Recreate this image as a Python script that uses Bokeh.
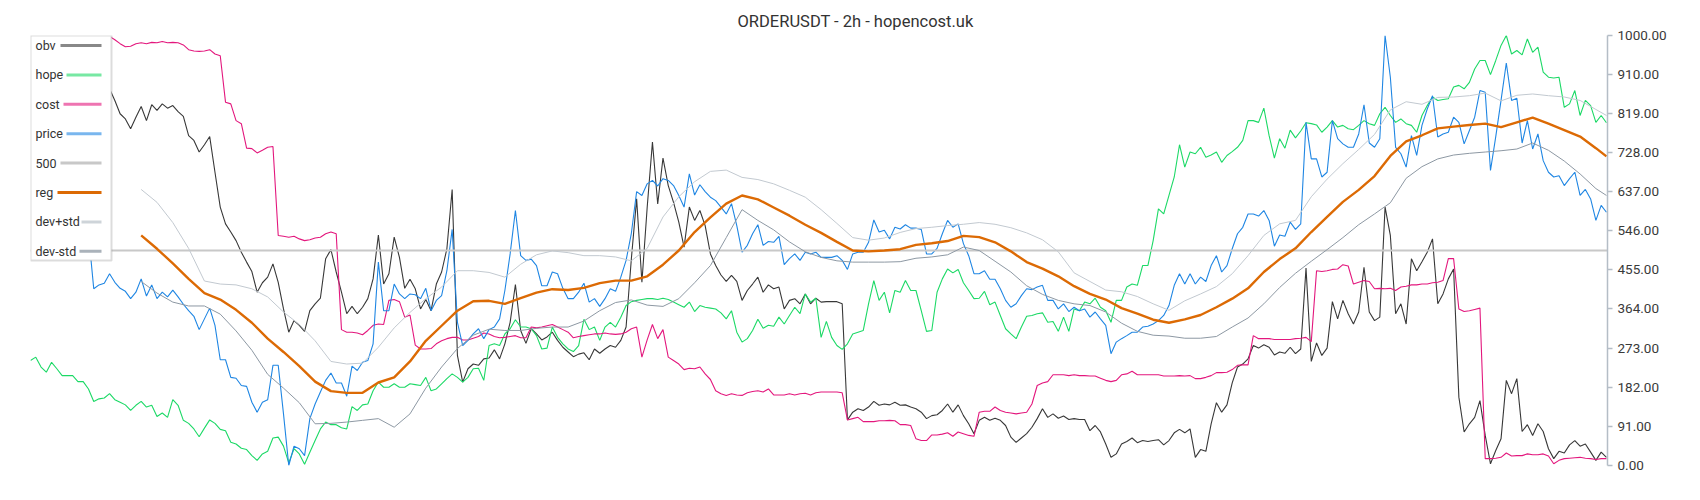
from bokeh.plotting import figure
from bokeh.models import Range1d, FixedTicker, NumeralTickFormatter, BoxAnnotation, Label
from bokeh.embed import file_html
from bokeh.resources import INLINE

# ---------------- data (normalised 0..1000, one value per 2h bar) ----------------
n_bars = 300

hope = [244, 252, 229, 217, 240, 225, 209, 209, 209, 195,
        195, 178, 149, 155, 157, 167, 153, 147, 141, 128,
        140, 149, 136, 140, 114, 122, 112, 153, 140, 105,
        98, 85, 67, 87, 106, 98, 84, 81, 54, 50,
        40, 37, 23, 12, 27, 33, 64, 66, 45, 6,
        39, 27, 3, 31, 58, 85, 101, 95, 95, 88,
        85, 137, 128, 141, 143, 174, 194, 182, 182, 190,
        182, 182, 190, 188, 186, 205, 174, 178, 190, 202,
        213, 205, 194, 205, 225, 226, 198, 279, 283, 279,
        306, 318, 339, 322, 322, 318, 302, 271, 273, 322,
        298, 283, 271, 265, 279, 340, 316, 322, 291, 322,
        333, 322, 345, 372, 381, 384, 386, 388, 388, 386,
        389, 386, 380, 374, 368, 380, 358, 372, 368, 366,
        364, 355, 341, 360, 310, 287, 295, 314, 340, 319,
        326, 324, 345, 329, 349, 368, 353, 399, 380, 389,
        298, 335, 298, 279, 270, 283, 306, 310, 314, 376,
        430, 384, 403, 355, 407, 403, 430, 407, 407, 360,
        312, 314, 403, 434, 457, 448, 456, 425, 407, 388,
        389, 405, 374, 380, 349, 318, 306, 295, 322, 347,
        349, 353, 355, 333, 335, 312, 345, 312, 364, 360,
        380, 376, 389, 368, 360, 333, 384, 384, 415, 422,
        419, 465, 465, 523, 597, 585, 628, 671, 746, 694,
        729, 725, 740, 717, 722, 729, 705, 721, 730, 740,
        756, 802, 802, 798, 831, 767, 715, 760, 738, 780,
        762, 778, 797, 795, 792, 775, 787, 802, 787, 791,
        783, 781, 791, 802, 795, 791, 818, 833, 814, 798,
        806, 795, 791, 775, 814, 837, 857, 849, 851, 853,
        880, 884, 876, 891, 922, 942, 942, 909, 942, 977,
        1000, 957, 965, 955, 992, 961, 973, 915, 903, 901,
        903, 833, 841, 872, 814, 849, 837, 798, 814, 797]

cost_first_bar = 15
cost = [998, 990, 981, 974, 975, 981, 983, 981, 984, 983, 986, 983, 984, 983, 978,
        967, 964, 963, 964, 967, 957, 953, 845, 841, 802, 795, 738, 737, 727, 733,
        740, 742, 535, 533, 531, 533, 527, 523, 525, 529, 531, 539, 543, 539, 316,
        310, 310,
        308, 304, 314, 326, 329, 328, 384, 386, 381, 345, 350, 280, 271, 271, 272,
        283, 290, 295, 298, 298, 292, 292, 296, 300, 308, 306, 300, 297, 298, 300,
        302, 297, 297, 322, 320, 322, 325, 328, 322, 316, 310, 297, 300, 302, 304,
        306, 306, 308, 306, 305, 306, 310, 318, 322, 252, 292, 328, 295, 316, 252,
        244,
        236, 223, 226, 225, 229, 213, 200, 174, 167, 163, 167, 164, 163, 169, 172,
        174, 171, 178, 164, 164, 164, 167, 164, 167, 168, 164, 169, 171, 171, 171,
        171, 169, 106, 109, 112, 102, 102, 102, 104, 104, 105, 104, 95, 95, 93,
        62, 58, 58, 71, 71, 73, 76, 68, 78, 74, 70, 68, 124, 126, 126, 136,
        128, 124, 122, 120, 122, 124, 143, 186, 192, 195, 211, 211, 211, 209, 211,
        209, 209, 208, 208, 203, 198, 195, 198, 211, 213, 219, 211, 211, 211, 211,
        211, 208, 208, 208, 209, 208, 209, 202, 202, 205, 209, 216, 216, 217, 223,
        233, 234, 234, 302, 295, 295, 295, 293, 293, 293,
        293, 295, 296, 298, 288, 453, 451, 453, 456, 457, 467, 464, 422, 426, 430,
        428, 411, 412, 411, 412, 407, 415, 417, 420, 420, 422, 422, 425, 426, 430,
        481, 481, 364, 358, 360, 363, 366, 16, 16, 17, 19, 29, 22, 23, 23, 27, 25,
        25, 27, 22, 4, 12, 16, 17, 18, 19, 17, 16, 14, 16, 16]

obv_first_bar = 15
obv = [876, 849, 818, 806, 783, 810, 835, 802, 839, 826, 841, 831, 837, 823, 812,
       767, 756, 729, 746, 765, 682, 601, 562, 543, 523, 496, 473, 451, 403, 425,
       438, 469, 426, 364, 310, 337, 326, 312, 360, 376, 389, 481, 502, 450, 403,
       353, 370,
       353, 368, 388, 434, 536, 422, 446, 531, 484, 412, 433, 411, 364, 386, 360,
       422, 450, 504, 642, 256, 194, 225, 236, 233, 248, 250, 269, 248, 283, 333,
       421, 314, 284, 318, 306, 292, 299, 310, 291, 275, 264, 253, 259, 262, 246,
       271, 261, 271, 279, 275, 291, 322, 481, 620, 426, 600, 752, 608, 715, 651,
       612,
       566, 508, 601, 570, 593, 558, 492, 465, 443, 428, 442, 428, 384, 407, 422,
       438, 403, 420, 411, 415, 364, 384, 388, 376, 399, 376, 389, 380, 381, 381,
       381, 376, 106, 124, 132, 128, 136, 149, 140, 143, 141, 147, 140, 141, 136,
       132, 124, 109, 116, 118, 128, 143, 124, 141, 116, 97, 74, 105, 112, 105, 110,
       105, 93, 66, 54, 64, 74, 89, 109, 132, 112, 120, 110, 115, 107, 109,
       107, 107, 81, 93, 78, 50, 19, 27, 50, 56, 64, 53, 58, 56, 58,
       60, 48, 58, 76, 84, 76, 85, 19, 37, 33, 97, 146, 124, 141, 192,
       229, 236, 248, 279, 273, 281, 275, 257, 264, 261,
       275, 260, 271, 459, 242, 285, 256, 273, 381, 341, 384, 353, 329, 357, 461,
       357, 337, 345, 601, 535, 353, 376, 329, 481, 453, 474, 496, 527, 376, 399,
       434, 457, 159, 78, 97, 112, 151, 70, 4, 35, 62, 198, 167, 202, 79,
       95, 70, 97, 79, 39, 16, 33, 29, 48, 58, 45, 50, 31, 12, 31, 19]

price_first_bar = 11
price = [540,
         411, 420, 424, 446, 426, 412, 405, 388, 403, 434, 394, 420, 388, 403, 392,
         408, 392, 375, 360, 347, 316, 341, 366, 326, 246, 246, 205, 203, 186, 184,
         147, 124, 147, 153, 233, 233, 120, 0, 45, 39, 23, 109, 143, 171, 198,
         215, 192, 192, 161, 231,
         221, 240, 244, 283, 473, 360, 360, 422, 399, 388, 399, 397, 388, 412, 360,
         384, 395, 453, 549, 333, 279, 291, 306, 318, 295, 316, 322, 341, 407, 492,
         593, 488, 477, 480, 465, 418, 418, 450, 446, 412, 388, 388, 403, 424, 380,
         388, 370, 388, 411, 405, 438, 477, 540, 637, 628, 655, 663, 650, 667, 663,
         651,
         628, 601, 678, 629, 653, 637, 624, 616, 601, 585, 609, 558, 496, 512, 539,
         560, 512, 521, 519, 533, 467, 481, 492, 477, 496, 492, 496, 484, 484, 484,
         488, 477, 456, 492, 496, 496, 519, 571, 543, 547, 527, 554, 550, 560, 552,
         552, 549, 492, 492, 505, 539, 570, 554, 562, 516, 488, 446, 446, 453, 433,
         433,
         411, 384, 368, 376, 395, 411, 409, 415, 419, 384, 384, 364, 376, 358, 368,
         360, 364, 345, 357, 341, 326, 260, 287, 295, 302, 310, 310, 322, 324, 329,
         337, 349, 372, 419, 446, 422, 446, 422, 438, 428, 465, 488, 450, 465, 504,
         539, 554, 585, 585, 580, 593, 570, 510, 536, 533,
         566, 549, 562, 798, 713, 713, 671, 682, 802, 760, 748, 740, 740, 771, 839,
         750, 740, 760, 1000, 903, 740, 725, 694, 767, 721, 791, 829, 860, 764, 771,
         775, 810, 798, 748, 779, 810, 872, 868, 686, 765, 849, 936, 849, 854, 750,
         802, 736, 771, 709, 682, 671, 674, 651, 667, 682, 628, 642, 620, 570, 605,
         589]

# smooth regression channel, read every third bar
band_bars = list(range(21, 298, 3)) + [299]
reg = [535, 504, 470, 434, 401, 386, 362, 332, 295, 264,
       231, 195, 173, 169, 169, 193, 205, 242, 290, 325,
       360, 382, 383, 376, 389, 402, 410, 408, 413, 424,
       430, 430, 440, 467, 500, 543, 577, 609, 628, 619,
       600, 581, 560, 541, 520, 500, 498, 500, 503, 513,
       517, 522, 534, 531, 519, 498, 473, 458, 440, 417,
       399, 386, 366, 353, 339, 332, 340, 350, 368, 388,
       412, 450, 480, 505, 543, 578, 613, 641, 673, 720,
       754, 768, 784, 788, 792, 795, 787, 798, 809, 795,
       780, 765, 738, 719]
dev_plus_std = [642, 612, 565, 505, 429, 422, 420, 411, 392, 357,
                328, 290, 242, 236, 238, 275, 320, 356, 388, 415,
                453, 453, 449, 438, 468, 490, 499, 495, 488, 488,
                485, 476, 505, 578, 625, 660, 684, 687, 670, 665,
                655, 640, 624, 595, 563, 530, 524, 529, 542, 551,
                554, 558, 561, 565, 561, 553, 541, 525, 497, 448,
                428, 408, 404, 393, 376, 361, 383, 399, 416, 446,
                488, 535, 562, 570, 625, 666, 702, 735, 770, 827,
                846, 840, 856, 857, 860, 866, 848, 861, 864, 860,
                857, 849, 828, 814]
dev_minus_std = [428, 401, 380, 371, 371, 352, 313, 268, 212, 180,
                 146, 97, 98, 101, 105, 109, 89, 120, 180, 229,
                 272, 303, 317, 314, 314, 319, 322, 322, 336, 360,
                 379, 385, 373, 370, 388, 425, 465, 530, 595, 570,
                 548, 520, 497, 484, 476, 473, 473, 473, 474, 482,
                 485, 490, 508, 500, 475, 450, 418, 398, 384, 376,
                 372, 357, 331, 312, 303, 301, 296, 296, 300, 322,
                 343, 376, 414, 447, 475, 502, 530, 560, 585, 611,
                 668, 695, 713, 722, 726, 729, 732, 736, 750, 733,
                 708, 678, 644, 628]

mid_level = 500
y_ticks = [0, 91, 182, 273, 364, 455, 546, 637, 728, 819, 910, 1000]
legend_names = ["obv", "hope", "cost", "price", "500", "reg", "dev+std", "dev-std"]
title_text = "ORDERUSDT - 2h - hopencost.uk"

# ---------------- styles ----------------
C_OBV = "#383838"
C_HOPE = "#1cd966"
C_COST = "#e3177d"
C_PRICE = "#1f86e3"
C_MID = "#c8c8c8"
C_REG = "#dc6a04"
C_UP = "#c2c9d0"
C_DN = "#8d98a3"
FONT = "Roboto"

p = figure(frame_width=1577, frame_height=430,
           min_border_left=30, min_border_right=93, min_border_top=35, min_border_bottom=35,
           x_range=Range1d(0, n_bars - 0.8), y_range=Range1d(0, 1000),
           x_axis_location=None, y_axis_location="right",
           toolbar_location=None, output_backend="svg",
           title=title_text)
p.outline_line_color = None
p.xgrid.visible = False
p.ygrid.visible = False
p.background_fill_color = "white"
p.border_fill_color = "white"

# title: left-aligned with an offset so that it sits centred on the page
p.title.align = "left"
p.title.offset = 707
p.title.standoff = 9
p.title.text_font = FONT
p.title.text_font_size = "16.5px"
p.title.text_font_style = "normal"
p.title.text_color = "#333333"

ax = p.yaxis[0]
ax.ticker = FixedTicker(ticks=y_ticks)
ax.formatter = NumeralTickFormatter(format="0.00")
ax.axis_line_color = "#b4bdc6"
ax.axis_line_width = 1.5
ax.major_tick_line_color = "#b4bdc6"
ax.major_tick_line_width = 1.5
ax.major_tick_out = 5
ax.major_tick_in = 0
ax.minor_tick_out = 0
ax.minor_tick_in = 0
ax.major_label_standoff = 5
ax.major_label_text_font = FONT
ax.major_label_text_font_size = "13.5px"
ax.major_label_text_color = "#3a3a3a"

hope_x = list(range(n_bars))
obv_x = list(range(obv_first_bar, obv_first_bar + len(obv)))
cost_x = list(range(cost_first_bar, cost_first_bar + len(cost)))
price_x = list(range(price_first_bar, price_first_bar + len(price)))

p.line(obv_x, obv, line_color=C_OBV, line_width=1.1)
p.line(hope_x, hope, line_color=C_HOPE, line_width=1.1)
p.line(cost_x, cost, line_color=C_COST, line_width=1.1)
p.line(price_x, price, line_color=C_PRICE, line_width=1.1)
p.line([hope_x[0], hope_x[-1] + 0.2], [mid_level, mid_level], line_color=C_MID, line_width=2)
p.line(band_bars, reg, line_color=C_REG, line_width=2.4)
p.line(band_bars, dev_plus_std, line_color=C_UP, line_width=1)
p.line(band_bars, dev_minus_std, line_color=C_DN, line_width=1)

# ---------------- legend (label left, swatch right) ----------------
legend_colors = [C_OBV, C_HOPE, C_COST, C_PRICE, C_MID, C_REG, C_UP, C_DN]
legend_alpha = [0.6, 0.6, 0.6, 0.6, 1.0, 1.0, 0.8, 0.75]
swatch_left = [30, 36, 33, 36, 30, 27, 51, 49]
box = BoxAnnotation(left=0, right=81, bottom=205, top=430,
                    left_units="screen", right_units="screen",
                    bottom_units="screen", top_units="screen",
                    fill_color="white", fill_alpha=1.0,
                    line_color="#8a8a8a", line_width=2)
p.add_layout(box)
row_y0 = 420
row_step = 29.4
for k, name in enumerate(legend_names):
    yc = row_y0 - k * row_step
    p.add_layout(BoxAnnotation(left=swatch_left[k], right=71, bottom=yc - 1.5, top=yc + 1.5,
                               left_units="screen", right_units="screen",
                               bottom_units="screen", top_units="screen",
                               fill_color=legend_colors[k], fill_alpha=legend_alpha[k],
                               line_color=None))
    p.add_layout(Label(x=5, y=yc, x_units="screen", y_units="screen", text=name,
                       text_baseline="middle", text_align="left",
                       text_font=FONT, text_font_size="12.5px", text_color="#333333"))

open("out.html", "w").write(file_html(p, INLINE))
